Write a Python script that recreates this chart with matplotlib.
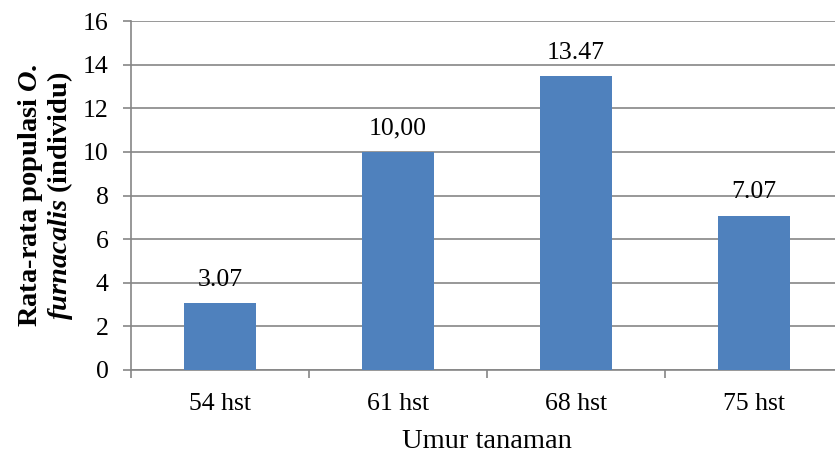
import matplotlib
matplotlib.use("Agg")
import matplotlib.pyplot as plt

categories = ["54 hst", "61 hst", "68 hst", "75 hst"]
values = [3.07, 10.00, 13.47, 7.07]
value_labels = ["3.07", "10,00", "13.47", "7.07"]
yticks = [0, 2, 4, 6, 8, 10, 12, 14, 16]

plt.rcParams['font.family'] = ['Liberation Serif', 'DejaVu Serif']
plt.rcParams['mathtext.fontset'] = 'custom'
plt.rcParams['mathtext.rm'] = 'Liberation Serif:bold'
plt.rcParams['mathtext.bfit'] = 'Liberation Serif:italic:bold'
plt.rcParams['mathtext.it'] = 'Liberation Serif:italic:bold'

fig = plt.figure(figsize=(8.35, 4.55), dpi=100)
L, R, T, B = 131, 843, 21, 370
ax = fig.add_axes([L / 835, (455 - B) / 455, (R - L) / 835, (B - T) / 455])

grey = "#868686"
tick_fs = 18.5
title_fs = 20.5
x = list(range(len(categories)))
ax.bar(x, values, width=0.4, color="#4F81BD", zorder=3)
ax.set_xlim(-0.5, len(categories) - 0.5)
ax.set_ylim(0, 16)
ax.set_yticks(yticks)
ax.set_yticklabels([str(t) for t in yticks])
ax.yaxis.grid(True, color=grey, linewidth=1.2, zorder=0)
ax.set_axisbelow(True)

ax.set_xticks(x)
ax.set_xticklabels(categories)
ax.set_xticks([i + 0.5 for i in range(-1, len(categories))], minor=True)
ax.tick_params(axis='x', which='major', length=0, pad=16.5, labelsize=tick_fs)
ax.tick_params(axis='x', which='minor', length=6, width=1.2, color=grey)
ax.tick_params(axis='y', length=6, width=1.2, color=grey, labelsize=tick_fs, pad=10)

for s in ['top', 'right']:
    ax.spines[s].set_visible(False)
for s in ['left', 'bottom']:
    ax.spines[s].set_color(grey)
    ax.spines[s].set_linewidth(1.2)

for xi, v, lab in zip(x, values, value_labels):
    ax.annotate(lab, (xi, v), xytext=(0, 12.5), textcoords='offset points',
                ha='center', va='baseline', fontsize=tick_fs)

ax.set_xlabel("Umur tanaman", fontsize=title_fs, labelpad=10)
ax.set_ylabel("Rata-rata populasi $\\mathbfit{O.}$\n$\\mathbfit{furnacalis}$ (individu)",
              fontsize=title_fs, fontweight='bold', labelpad=6, linespacing=1.0)

fig.savefig("out.png", dpi=100)
